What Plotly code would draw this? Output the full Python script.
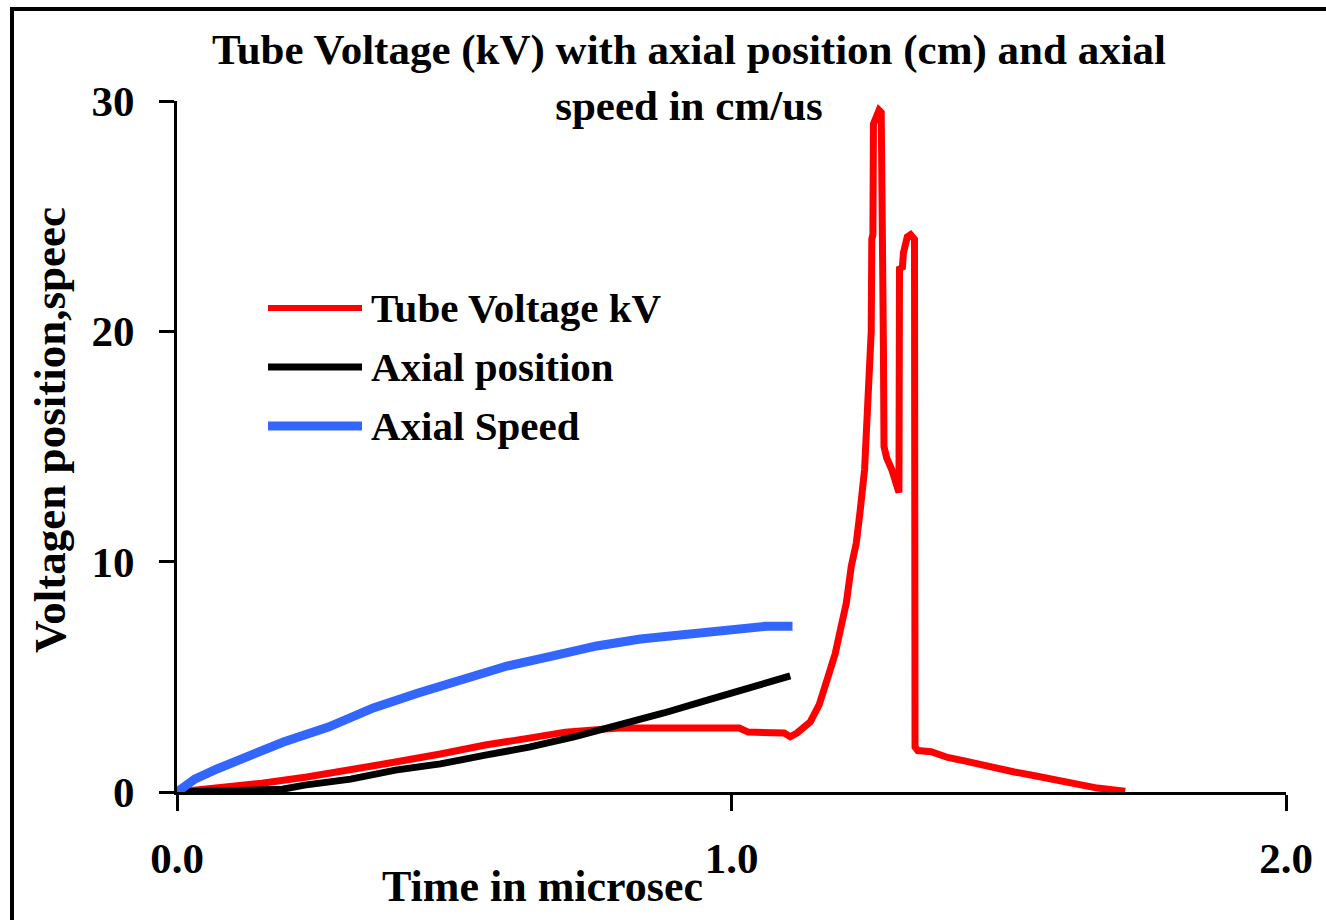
import plotly.graph_objects as go

# ---- data ----
voltage_t = [0, 0.084, 0.153, 0.234, 0.313, 0.394, 0.475, 0.556, 0.635, 0.70, 0.797, 0.917,
             1.014, 1.03, 1.095, 1.106, 1.118, 1.142, 1.158, 1.174, 1.187, 1.196, 1.207, 1.216,
             1.225, 1.232, 1.240, 1.245, 1.249, 1.252, 1.253, 1.255, 1.256, 1.262, 1.266, 1.270,
             1.271, 1.274, 1.275, 1.280, 1.289, 1.297, 1.302, 1.303, 1.308, 1.310, 1.317, 1.323,
             1.330, 1.331, 1.336, 1.36, 1.39, 1.42, 1.45, 1.48, 1.51, 1.54, 1.57, 1.60, 1.63,
             1.66, 1.69, 1.71]
voltage_kv = [0, 0.2, 0.38, 0.65, 0.95, 1.3, 1.65, 2.04, 2.34, 2.6, 2.78, 2.78,
              2.78, 2.6, 2.56, 2.4, 2.56, 3.04, 3.78, 5.0, 6.0, 7.0, 8.2, 9.8,
              10.8, 12.2, 14.0, 16.5, 19.4, 20.0, 24.0, 24.2, 29.0, 29.4, 29.6, 29.5,
              20.0, 19.2, 15.0, 14.5, 14.0, 13.2, 13.0, 22.8, 22.7, 23.4, 24.1, 24.2,
              24.0, 1.95, 1.8, 1.75, 1.5, 1.35, 1.17, 1.04, 0.87, 0.74, 0.6, 0.43, 0.26,
              0.17, 0.09, 0.03]

position_t = [0, 0.113, 0.19, 0.23, 0.313, 0.394, 0.475, 0.556, 0.635, 0.716, 0.797, 0.878,
              0.958, 1.038, 1.106]
position_cm = [0, 0.04, 0.12, 0.3, 0.56, 0.95, 1.22, 1.6, 1.95, 2.39, 2.9, 3.43,
               4.0, 4.6, 5.04]

speed_t = [0, 0.032, 0.072, 0.113, 0.153, 0.192, 0.273, 0.354, 0.435, 0.515, 0.595, 0.676,
           0.757, 0.836, 0.917, 0.998, 1.063, 1.11]
speed_cm_us = [0, 0.56, 1.0, 1.43, 1.82, 2.17, 2.82, 3.65, 4.3, 4.86, 5.47, 5.9,
               6.34, 6.64, 6.86, 7.0, 7.2, 7.2]

series_names = ["Tube Voltage kV", "Axial position", "Axial Speed"]
series_colors = ["#ff0000", "#000000", "#3366ff"]
series_widths = [7, 7, 9]
legend_widths = [6, 7, 9]

x_ticks = [0, 1, 2]
x_tick_labels = ["0.0", "1.0", "2.0"]
y_ticks = [0, 10, 20, 30]

FONT = "Liberation Serif"

# ---- layout geometry (pixels) ----
W, H = 1326, 920
L, R, T, B = 177, 40, 101, 128
PW, PH = W - L - R, H - T - B


def px(x):
    return (x - L) / PW


def py(y):
    return (H - B - y) / PH


fig = go.Figure()
xs = [voltage_t, position_t, speed_t]
ys = [voltage_kv, position_cm, speed_cm_us]
for name, color, w, x, y in zip(series_names, series_colors, series_widths, xs, ys):
    fig.add_trace(go.Scatter(x=x, y=y, mode="lines", name=name,
                             line=dict(color=color, width=w), showlegend=False))

shapes = []
annotations = []
# outer frame
shapes.append(dict(type="rect", xref="paper", yref="paper",
                   x0=px(12), x1=px(1335), y0=py(930), y1=py(9),
                   line=dict(color="black", width=4), fillcolor="rgba(0,0,0,0)", layer="below"))

# custom legend
legend_rows = [308, 367, 426]
for name, color, w, yrow in zip(series_names, series_colors, legend_widths, legend_rows):
    shapes.append(dict(type="line", xref="paper", yref="paper",
                       x0=px(268), x1=px(362), y0=py(yrow), y1=py(yrow),
                       line=dict(color=color, width=w)))
    annotations.append(dict(text="<b>%s</b>" % name, xref="paper", yref="paper",
                            x=px(369), y=py(yrow), xanchor="left", yanchor="middle",
                            showarrow=False, font=dict(family=FONT, size=41, color="black")))

# axis titles
annotations.append(dict(text="<b>Time in microsec</b>", xref="paper", yref="paper",
                        x=px(542), y=py(886), xanchor="center", yanchor="middle",
                        showarrow=False, font=dict(family=FONT, size=44, color="black")))
annotations.append(dict(text="<b>Voltagen position,speec</b>", xref="paper", yref="paper",
                        x=px(50), y=py(430), xanchor="center", yanchor="middle", textangle=-90,
                        showarrow=False, font=dict(family=FONT, size=45, color="black")))

fig.update_layout(
    width=W, height=H,
    margin=dict(l=L, r=R, t=T, b=B, autoexpand=False),
    paper_bgcolor="white", plot_bgcolor="white",
    title=dict(text="<b>Tube Voltage (kV) with axial position (cm) and axial<br>speed in cm/us</b>",
               x=689 / W, xref="container", xanchor="center",
               y=1 - 64 / H, yref="container", yanchor="top",
               font=dict(family=FONT, size=43, color="black")),
    shapes=shapes, annotations=annotations,
)
fig.update_xaxes(range=[0, 2], tickvals=x_ticks, ticktext=x_tick_labels,
                 showgrid=False, zeroline=False, showline=True, linecolor="black", linewidth=3,
                 ticks="outside", ticklen=16, tickwidth=3, tickcolor="black",
                 ticklabelstandoff=10,
                 tickfont=dict(family=FONT, size=43, color="black", weight="bold"))
fig.update_yaxes(range=[0, 30], tickvals=y_ticks,
                 showgrid=False, zeroline=False, showline=True, linecolor="black", linewidth=3,
                 ticks="outside", ticklen=15, tickwidth=3, tickcolor="black",
                 ticklabelstandoff=16,
                 tickfont=dict(family=FONT, size=43, color="black", weight="bold"))

fig.write_html("out.html")
